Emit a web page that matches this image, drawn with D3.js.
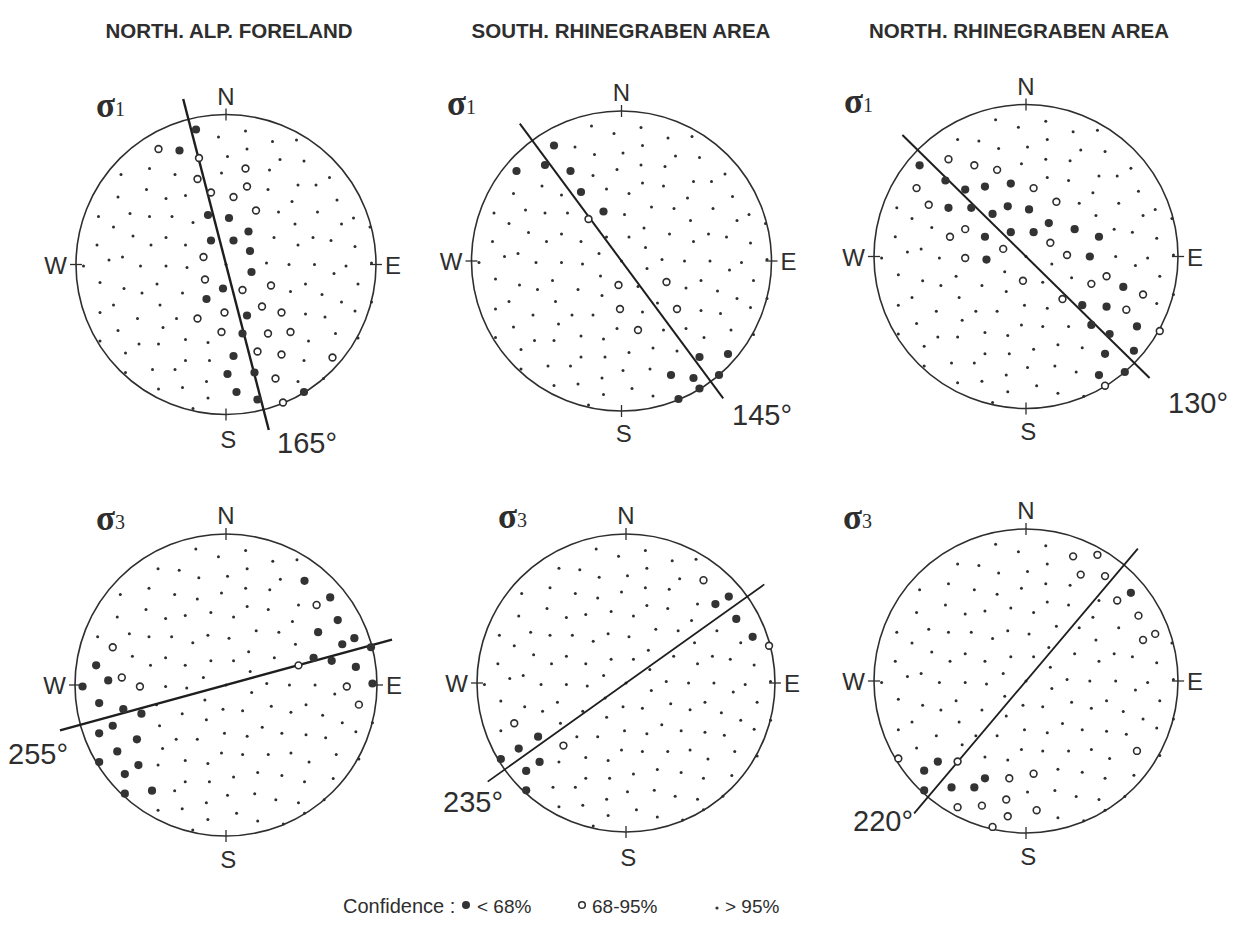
<!DOCTYPE html>
<html><head><meta charset="utf-8">
<script src="https://cdn.jsdelivr.net/npm/d3@7"></script>
<style>body{margin:0;background:#fff}svg{display:block}</style>
</head><body>
<svg id="chart" width="1246" height="933"></svg>
<script>
// ---------- data ----------
const regions = ["NORTH. ALP. FORELAND", "SOUTH. RHINEGRABEN AREA", "NORTH. RHINEGRABEN AREA"];
const stressAxes = ["1", "3"];
const trendLabels = ["165°", "145°", "130°", "255°", "235°", "220°"];
// azimuth of the drawn trend line as measured in the picture (degrees)
const lineTrends = [165.5, 143.5, 134.5, 254.7, 234.5, 220.2];
const compass = ["N", "E", "S", "W"];
const legendTitle = "Confidence :";
const legendLabels = ["< 68%", "68-95%", "> 95%"];

// test-direction grid, projected coordinates in % of net radius (x = east, y = north)
const grid = [
 [-20,90],[-5,85],[-45,77],[-31,76],[-18,71],[1,72],[-70,60],[-51,64],[-34,60],[-19,57],
 [-3,61],[-53,50],[-27,46],[-72,45],[-40,44],[-10,48],[-12,33],[-22,28],[-85,32],[-64,34],
 [-51,32],[-36,32],[-75,25],[-62,19],[-40,18],[-86,13],[-50,13],[-27,13],[-15,5],[-69,5],
 [-78,3],[-95,-1],[-57,-1],[-40,-1],[-26,-2],[0,0],[-10,16],
 [13,89],[31,82],[47,83],[14,77],[36,70],[52,69],[13,64],[29,63],[69,58],[14,52],
 [28,50],[48,53],[60,53],[5,45],[74,43],[44,42],[20,36],[35,35],[61,35],[2,31],
 [85,31],[46,27],[77,27],[15,22],[32,18],[58,18],[5,16],[70,16],[48,13],[86,12],
 [16,9],[27,1],[42,0],[59,0],[80,-1],[97,1],[96,25],
 [-14,-10],[-2,-16],[-1,-32],[-84,-12],[-68,-16],[-46,-13],[-56,-19],[-29,-19],[-13,-23],[-75,-27],
 [-44,-27],[-84,-32],[-59,-36],[-33,-36],[-19,-36],[-42,-42],[-72,-44],[-3,-45],[-84,-51],[-58,-53],
 [-45,-53],[-27,-50],[-12,-52],[-67,-59],[-27,-64],[-11,-64],[-49,-70],[-34,-70],[-67,-72],[-13,-78],
 [-45,-83],[-29,-82],[-12,-89],[-22,-96],[1,-73],
 [17,-5],[72,-6],[30,-14],[11,-17],[53,-13],[88,-13],[43,-18],[64,-20],[77,-25],[97,-25],
 [37,-32],[14,-34],[24,-28],[53,-33],[66,-35],[86,-31],[11,-46],[28,-46],[43,-45],[73,-46],
 [88,-49],[55,-51],[5,-61],[21,-58],[37,-60],[52,-64],[71,-62],[19,-72],[33,-76],[48,-78],
 [65,-76],[7,-85],[52,-85],[21,-90],[38,-92]
];

// confidence < 68 % (filled) and 68-95 % (open) per net
const filledAlpS1 = [[-20,90],[-31,76],[-12,33],[2,31],[15,22],[-10,16],[5,16],[16,9],[17,-5],[-2,-16],[-13,-23],[14,-34],[11,-46],[5,-61],[1,-73],[19,-72],[7,-85],[21,-90],[52,-85]];
const openAlpS1 = [[-45,77],[-18,71],[13,64],[-19,57],[14,52],[-10,48],[5,45],[20,36],[-15,5],[-14,-10],[11,-17],[30,-14],[24,-28],[37,-32],[-1,-32],[-19,-36],[-3,-45],[28,-46],[43,-45],[21,-58],[37,-60],[71,-62],[33,-76],[38,-92]];
const filledSouthS1 = [[-45,77],[-70,60],[-51,64],[-34,60],[-27,46],[-12,33],[52,-64],[71,-62],[33,-76],[48,-78],[65,-76],[52,-85],[38,-92]];
const openSouthS1 = [[-22,28],[-2,-16],[-1,-32],[30,-14],[37,-32],[11,-46]];
const filledNorthS1 = [[-70,60],[-53,50],[-40,44],[-27,46],[-10,48],[-51,32],[-36,32],[-22,28],[-12,33],[2,31],[15,22],[-10,16],[5,16],[32,18],[-27,13],[48,13],[-26,-2],[42,0],[64,-20],[37,-32],[53,-33],[43,-45],[73,-46],[55,-51],[52,-64],[71,-62],[48,-78],[65,-76]];
const openNorthS1 = [[-51,64],[-34,60],[-19,57],[-72,45],[5,45],[-64,34],[20,36],[-40,18],[-50,13],[16,9],[-15,5],[-40,-1],[27,1],[-2,-16],[43,-18],[53,-13],[77,-25],[24,-28],[66,-35],[88,-49],[52,-85]];
const filledAlpS3 = [[52,69],[69,58],[74,43],[61,35],[85,31],[77,27],[96,25],[58,18],[70,16],[86,12],[97,1],[-86,13],[-78,3],[-95,-1],[-84,-12],[-68,-16],[-56,-19],[-75,-27],[-84,-32],[-59,-36],[-72,-44],[-84,-51],[-58,-53],[-67,-59],[-67,-72],[-49,-70]];
const openAlpS3 = [[60,53],[-75,25],[-69,5],[-57,-1],[48,13],[80,-1],[88,-13]];
const filledSouthS3 = [[69,58],[60,53],[74,43],[85,31],[-59,-36],[-72,-44],[-84,-51],[-58,-53],[-67,-59],[-67,-72]];
const openSouthS3 = [[52,69],[96,25],[-75,-27],[-42,-42]];
const filledNorthS3 = [[69,58],[-58,-53],[-67,-59],[-27,-64],[-49,-70],[-34,-70],[-67,-72]];
const openNorthS3 = [[31,82],[47,83],[36,70],[52,69],[60,53],[74,43],[85,31],[77,27],[73,-46],[-84,-51],[-45,-53],[-11,-64],[5,-61],[-13,-78],[-45,-83],[-29,-82],[7,-85],[-12,-89],[-22,-96]];

const filledSets = [filledAlpS1, filledSouthS1, filledNorthS1, filledAlpS3, filledSouthS3, filledNorthS3];
const openSets = [openAlpS1, openSouthS1, openNorthS1, openAlpS3, openSouthS3, openNorthS3];

// ---------- layout ----------
const INK = "#2e2e2e";
const layout = [
  {cx:226,   cy:264.5, r:150, lw:2.4, sig:[96,117],  deg:[277,453], sDy:33},
  {cx:621.5, cy:261,   r:150, lw:2.0, sig:[447,115], deg:[732,425], sDy:31},
  {cx:1026,  cy:256.5, r:152, lw:2.0, sig:[844,113], deg:[1168,413], sDy:31},
  {cx:226,   cy:685,   r:151, lw:2.4, sig:[96,530],  deg:[8,764],  sDy:32},
  {cx:626,   cy:683,   r:149, lw:1.8, sig:[498,528], deg:[443,812], sDy:34},
  {cx:1026,  cy:681,   r:152, lw:1.8, sig:[843,529], deg:[853,831], sDy:32}
];
const svg = d3.select("#chart");
const sans = "'Liberation Sans', Arial, sans-serif";
const serif = "'Liberation Serif', 'Times New Roman', serif";

// titles
svg.selectAll("text.title").data(regions).join("text")
  .attr("class","title")
  .attr("x",(d,i)=>[229,621,1019][i]).attr("y",38)
  .attr("text-anchor","middle")
  .attr("font-family",sans).attr("font-weight","bold").attr("font-size",20.5)
  .attr("fill",INK).text(d=>d);

const key = p => p[0] + "," + p[1];

layout.forEach((L, i) => {
  const x = d3.scaleLinear().domain([-100,100]).range([L.cx - L.r, L.cx + L.r]);
  const y = d3.scaleLinear().domain([-100,100]).range([L.cy + L.r, L.cy - L.r]);
  const g = svg.append("g");

  // primitive circle
  g.append("circle").attr("cx",x(0)).attr("cy",y(0)).attr("r",L.r)
    .attr("fill","none").attr("stroke",INK).attr("stroke-width",1.6);

  // cardinal ticks
  const ang = [0,90,180,270];
  g.selectAll("line.tick").data(ang).join("line")
    .attr("x1",a=>x(96*Math.sin(a*Math.PI/180))).attr("y1",a=>y(96*Math.cos(a*Math.PI/180)))
    .attr("x2",a=>x(104*Math.sin(a*Math.PI/180))).attr("y2",a=>y(104*Math.cos(a*Math.PI/180)))
    .attr("stroke",INK).attr("stroke-width",1.3);

  // compass letters
  g.selectAll("text.cmp").data(compass).join("text")
    .attr("font-family",sans).attr("font-size",24).attr("fill",INK)
    .attr("x",d=> d==="N"? x(0) : d==="S"? x(1.5) : d==="E"? x(100)+9 : x(-100)-9)
    .attr("y",d=> d==="N"? y(100)-10 : d==="S"? y(-100)+L.sDy : y(0)+9)
    .attr("text-anchor",d=> d==="E"?"start": d==="W"?"end":"middle")
    .text(d=>d);

  // background small dots (> 95 %)
  const used = new Set([...filledSets[i], ...openSets[i]].map(key));
  g.selectAll("circle.dot").data(grid.filter(p=>!used.has(key(p)))).join("circle")
    .attr("cx",d=>x(d[0])).attr("cy",d=>y(d[1])).attr("r",1.5).attr("fill",INK);

  // trend line
  const t = lineTrends[i]*Math.PI/180, ext = 114;
  g.append("line")
    .attr("x1",x(ext*Math.sin(t))).attr("y1",y(ext*Math.cos(t)))
    .attr("x2",x(-ext*Math.sin(t))).attr("y2",y(-ext*Math.cos(t)))
    .attr("stroke","#1e1e1e").attr("stroke-width",L.lw);

  // open (68-95 %)
  g.selectAll("circle.open").data(openSets[i]).join("circle")
    .attr("cx",d=>x(d[0])).attr("cy",d=>y(d[1])).attr("r",3.4)
    .attr("fill","#fff").attr("stroke",INK).attr("stroke-width",1.6);

  // filled (< 68 %)
  g.selectAll("circle.fill").data(filledSets[i]).join("circle")
    .attr("cx",d=>x(d[0])).attr("cy",d=>y(d[1])).attr("r",4.1)
    .attr("fill","#333");

  // sigma label
  const s = g.append("text").attr("x",L.sig[0]).attr("y",L.sig[1])
    .attr("font-family",serif).attr("fill",INK);
  s.append("tspan").attr("font-size",35).attr("font-weight","bold").text("σ");
  s.append("tspan").attr("font-size",20).attr("dy",-1).text(stressAxes[i < 3 ? 0 : 1]);

  // trend label
  g.append("text").attr("x",L.deg[0]).attr("y",L.deg[1])
    .attr("font-family",sans).attr("font-size",29).attr("fill",INK)
    .text(trendLabels[i]);
});

// legend
const lg = svg.append("g");
const ly = 913;
lg.append("text").attr("x",343).attr("y",ly).attr("font-family",sans).attr("font-size",20)
  .attr("fill",INK).text(legendTitle);
const symX = [466, 582, 717], txtX = [477, 592, 725];
lg.selectAll("circle.sym").data(legendLabels).join("circle")
  .attr("cx",(d,i)=>symX[i]).attr("cy",(d,i)=>ly - (i===2?5:8))
  .attr("r",(d,i)=>[4,3.3,1.6][i])
  .attr("fill",(d,i)=>i===1?"#fff":"#333")
  .attr("stroke",(d,i)=>i===1?INK:"none").attr("stroke-width",1.5);
lg.selectAll("text.lab").data(legendLabels).join("text")
  .attr("x",(d,i)=>txtX[i]).attr("y",ly)
  .attr("font-family",sans).attr("font-size",19).attr("fill",INK).text(d=>d);
</script>
</body></html>
